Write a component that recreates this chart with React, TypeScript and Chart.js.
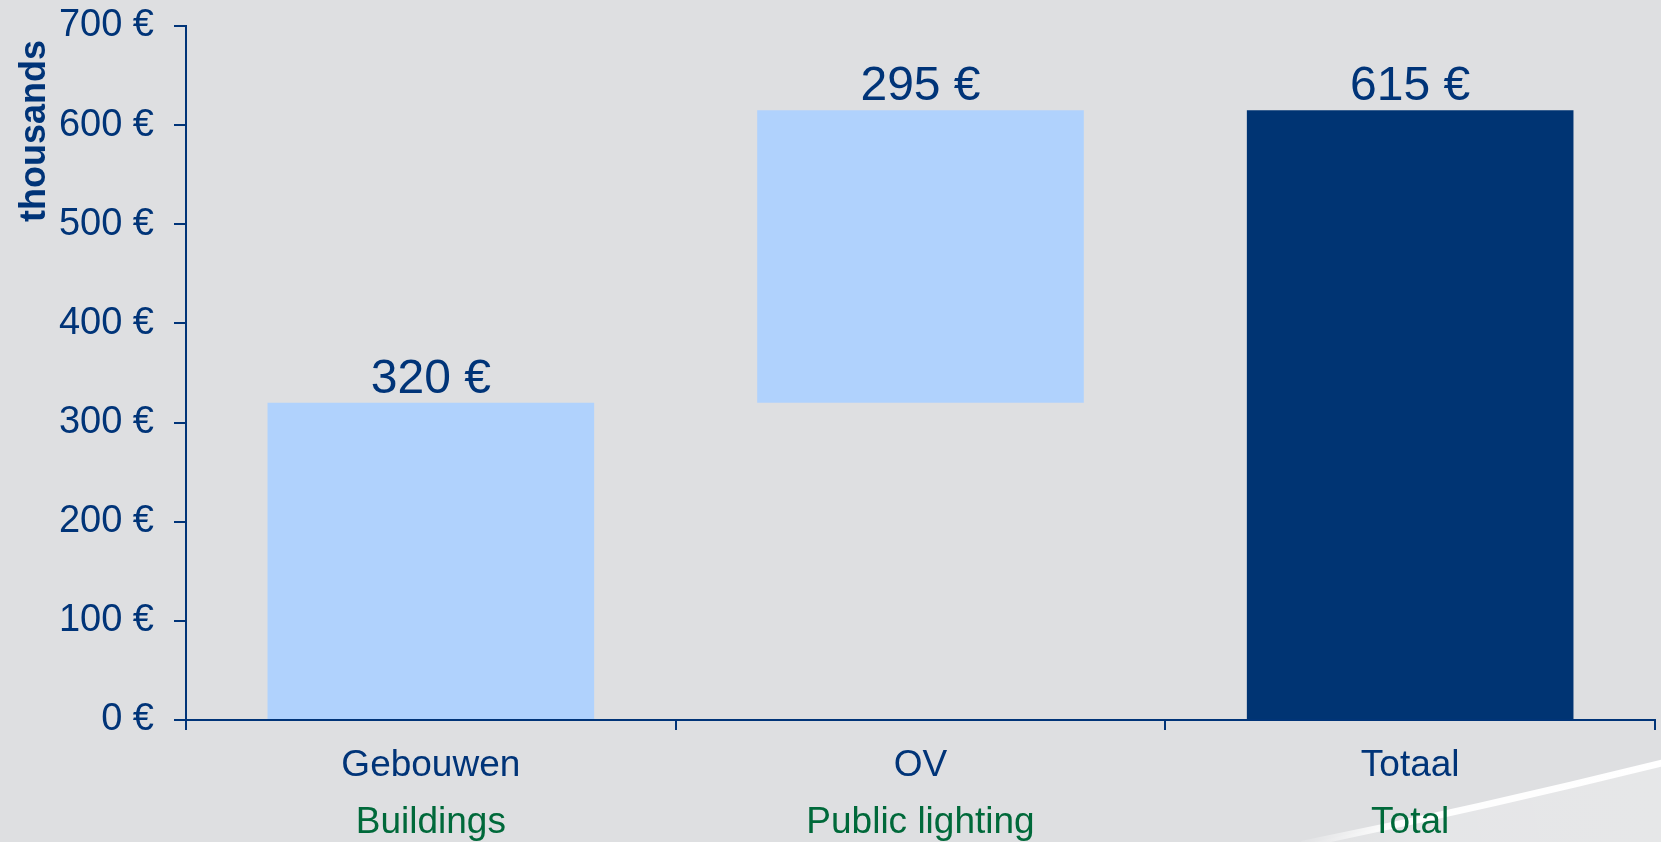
import React, { useEffect, useRef } from "react";
import { Chart, registerables } from "chart.js";

Chart.register(...registerables);

const categories = ["Gebouwen", "OV", "Totaal"];
const englishLabels = ["Buildings", "Public lighting", "Total"];
const barStarts = [0, 320, 0];
const barEnds = [320, 615, 615];
const valueLabels = [320, 295, 615];
const yMin = 0;
const yMax = 700;
const yStep = 100;
const axisTitle = "thousands";

const NAVY = "#003478";
const GREEN = "#00693A";
const LIGHT = "#B0D2FD";
const DARK = "#003473";
const BG = "#DEDFE1";
const barColors = [LIGHT, LIGHT, DARK];
const FONT = "'Liberation Sans', Arial, Helvetica, sans-serif";

const W = 1661;
const H = 842;

const overlay = {
  id: "overlay",
  beforeDraw(chart: any) {
    const ctx = chart.ctx;
    const w = chart.width;
    const h = chart.height;
    ctx.save();
    ctx.fillStyle = BG;
    ctx.fillRect(0, 0, w, h);
    // decorative swoosh
    const g1 = ctx.createLinearGradient(w * 0.77, h, w, h - 80);
    g1.addColorStop(0, "rgba(255,255,255,0)");
    g1.addColorStop(0.35, "rgba(255,255,255,0.22)");
    g1.addColorStop(1, "rgba(255,255,255,0.25)");
    ctx.fillStyle = g1;
    ctx.beginPath();
    ctx.moveTo(w * 0.785, h + 2);
    ctx.quadraticCurveTo(w * 0.891, h - 34, w + 5, h - 80);
    ctx.lineTo(w, h);
    ctx.closePath();
    ctx.fill();
    const g2 = ctx.createLinearGradient(w * 0.785, h, w, h - 80);
    g2.addColorStop(0, "rgba(255,255,255,0.1)");
    g2.addColorStop(0.25, "rgba(255,255,255,0.95)");
    g2.addColorStop(1, "rgba(255,255,255,1)");
    ctx.strokeStyle = g2;
    ctx.lineWidth = 7;
    ctx.lineCap = "round";
    ctx.beginPath();
    ctx.moveTo(w * 0.785, h + 2);
    ctx.quadraticCurveTo(w * 0.891, h - 34, w + 5, h - 80);
    ctx.stroke();
    ctx.restore();
  },
  afterDatasetsDraw(chart: any) {
    const ctx = chart.ctx;
    const meta = chart.getDatasetMeta(0);
    ctx.save();
    ctx.font = `48px ${FONT}`;
    ctx.fillStyle = NAVY;
    ctx.textAlign = "center";
    ctx.textBaseline = "alphabetic";
    meta.data.forEach((el: any, i: number) => {
      const top = Math.min(el.y, el.base);
      ctx.fillText(`${valueLabels[i]} €`, el.x, top - 10);
    });
    ctx.restore();
  },
  afterDraw(chart: any) {
    const ctx = chart.ctx;
    const xs = chart.scales.x;
    const area = chart.chartArea;
    ctx.save();
    ctx.textAlign = "center";
    ctx.textBaseline = "alphabetic";
    categories.forEach((c, i) => {
      const x = xs.getPixelForValue(i);
      ctx.font = `37px ${FONT}`;
      ctx.fillStyle = NAVY;
      ctx.fillText(c, x, area.bottom + 56);
      ctx.fillStyle = GREEN;
      ctx.fillText(englishLabels[i], x, area.bottom + 113);
    });
    // y-axis title
    ctx.translate(45, 131);
    ctx.rotate(-Math.PI / 2);
    ctx.font = `bold 36px ${FONT}`;
    ctx.fillStyle = NAVY;
    ctx.textAlign = "center";
    ctx.textBaseline = "alphabetic";
    ctx.fillText(axisTitle, 0, 0);
    ctx.restore();
  },
};

export default function App() {
  const ref = useRef<HTMLCanvasElement | null>(null);

  useEffect(() => {
    const canvas = ref.current;
    if (!canvas) return;
    const data = barStarts.map((s, i) => [s, barEnds[i]]);
    const chart = new Chart(canvas, {
      type: "bar",
      data: {
        labels: categories,
        datasets: [
          {
            data: data as any,
            backgroundColor: barColors,
            borderWidth: 0,
            categoryPercentage: 1,
            barPercentage: 0.667,
          },
        ],
      },
      options: {
        responsive: false,
        animation: false,
        events: [],
        layout: { padding: { top: 26, right: 6, left: 0, bottom: 0 } },
        plugins: {
          legend: { display: false },
          tooltip: { enabled: false },
          title: { display: false },
        },
        scales: {
          x: {
            offset: true,
            grid: {
              display: true,
              offset: true,
              drawOnChartArea: false,
              drawTicks: true,
              tickLength: 10,
              color: NAVY,
              lineWidth: 2,
            },
            border: { display: true, color: NAVY, width: 2 },
            ticks: { display: false },
            afterFit(scale: any) {
              scale.height = 122;
              scale.paddingLeft = 0;
              scale.paddingRight = 0;
            },
          },
          y: {
            min: yMin,
            max: yMax,
            grid: {
              display: true,
              drawOnChartArea: false,
              drawTicks: true,
              tickLength: 12,
              color: NAVY,
              lineWidth: 2,
            },
            border: { display: true, color: NAVY, width: 2 },
            ticks: {
              stepSize: yStep,
              color: NAVY,
              padding: 20,
              font: { family: FONT, size: 38 },
              callback: (v: any) => `${v} €`,
            },
            afterFit(scale: any) {
              scale.width = 186;
              scale.paddingTop = 0;
              scale.paddingBottom = 0;
            },
          },
        },
      },
      plugins: [overlay],
    });
    return () => chart.destroy();
  }, []);

  return (
    <div
      style={{
        position: "fixed",
        left: 0,
        top: 0,
        width: W,
        height: H,
        background: BG,
        overflow: "hidden",
      }}
    >
      <canvas ref={ref} width={W} height={H} style={{ display: "block" }} />
    </div>
  );
}
